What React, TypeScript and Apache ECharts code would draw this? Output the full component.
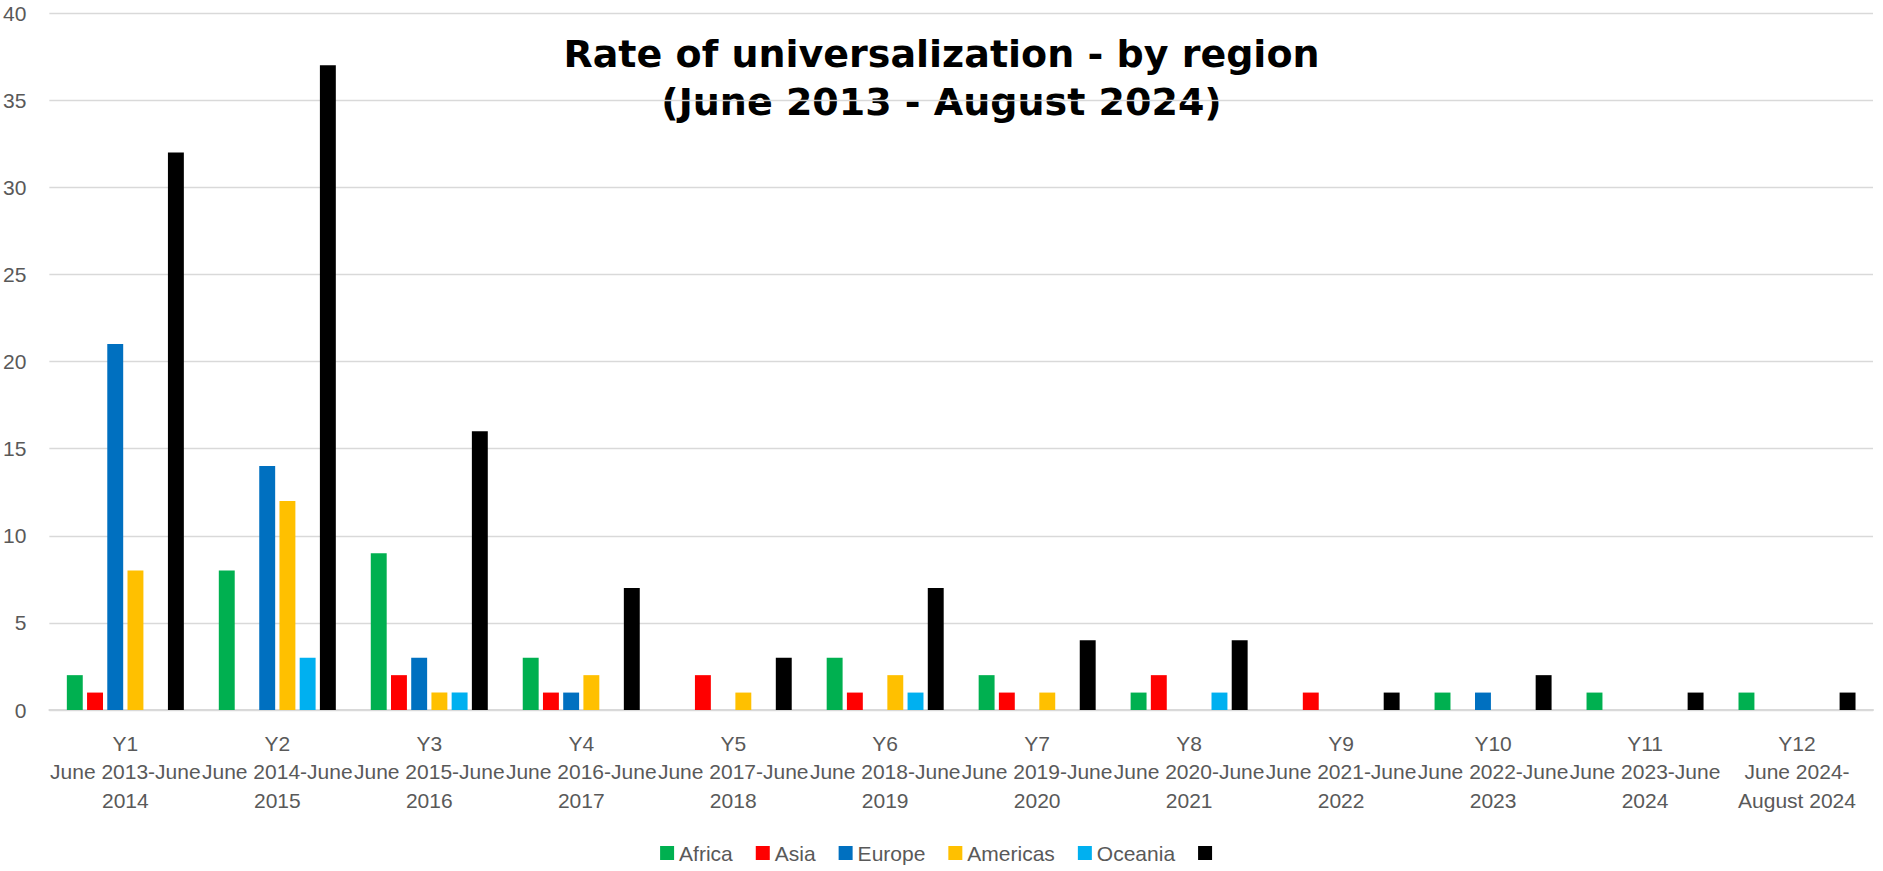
import React, { useEffect, useRef } from "react";
import * as echarts from "echarts";

const categories = [
  "Y1\nJune 2013-June\n2014",
  "Y2\nJune 2014-June\n2015",
  "Y3\nJune 2015-June\n2016",
  "Y4\nJune 2016-June\n2017",
  "Y5\nJune 2017-June\n2018",
  "Y6\nJune 2018-June\n2019",
  "Y7\nJune 2019-June\n2020",
  "Y8\nJune 2020-June\n2021",
  "Y9\nJune 2021-June\n2022",
  "Y10\nJune 2022-June\n2023",
  "Y11\nJune 2023-June\n2024",
  "Y12\nJune 2024-\nAugust 2024",
];

const africa = [2, 8, 9, 3, 0, 3, 2, 1, 0, 1, 1, 1];
const asia = [1, 0, 2, 1, 2, 1, 1, 2, 1, 0, 0, 0];
const europe = [21, 14, 3, 1, 0, 0, 0, 0, 0, 1, 0, 0];
const americas = [8, 12, 1, 2, 1, 2, 1, 0, 0, 0, 0, 0];
const oceania = [0, 3, 1, 0, 0, 1, 0, 1, 0, 0, 0, 0];
const total = [32, 37, 16, 7, 3, 7, 4, 4, 1, 2, 1, 1];

const seriesNames = ["Africa", "Asia", "Europe", "Americas", "Oceania", " "];
const seriesColors = ["#00B050", "#FF0000", "#0070C0", "#FFC000", "#00B0F0", "#000000"];
const seriesData = [africa, asia, europe, americas, oceania, total];

const titleText = "Rate of universalization - by region\n(June 2013 - August 2024)";

export default function App() {
  const ref = useRef<HTMLDivElement>(null);

  useEffect(() => {
    if (!ref.current) return;
    const chart = echarts.init(ref.current, undefined, { renderer: "svg" });
    const labelFont = "'Liberation Sans', Arial, sans-serif";
    chart.setOption({
      animation: false,
      backgroundColor: "#ffffff",
      title: {
        text: titleText,
        left: "center",
        top: 25,
        z: 0,
        textStyle: {
          fontFamily: "'DejaVu Sans', sans-serif",
          fontWeight: "bold",
          fontSize: 38,
          lineHeight: 48,
          color: "#000000",
        },
      },
      legend: {
        data: seriesNames,
        left: "center",
        top: 837,
        icon: "rect",
        itemWidth: 14,
        itemHeight: 14,
        itemGap: 23,
        textStyle: {
          fontFamily: labelFont,
          fontSize: 21,
          color: "#595959",
          lineHeight: 22,
        },
      },
      grid: {
        left: 46,
        right: 10,
        top: 13,
        bottom: 161,
        containLabel: false,
      },
      xAxis: {
        type: "category",
        data: categories,
        axisTick: { show: false },
        axisLine: { lineStyle: { color: "#D9D9D9", width: 2 } },
        axisLabel: {
          interval: 0,
          fontFamily: labelFont,
          fontSize: 21,
          color: "#595959",
          lineHeight: 28.5,
          margin: 19,
        },
      },
      yAxis: {
        type: "value",
        min: 0,
        max: 40,
        interval: 5,
        z: 1,
        axisLine: { show: false },
        axisTick: { show: false },
        splitLine: { lineStyle: { color: "#D9D9D9", width: 1.3 } },
        axisLabel: {
          fontFamily: labelFont,
          fontSize: 21,
          color: "#595959",
          margin: 23,
        },
      },
      series: seriesNames.map((name, i) => ({
        name,
        type: "bar",
        data: seriesData[i],
        barGap: "27%",
        barCategoryGap: "23%",
        z: 2,
        itemStyle: { color: seriesColors[i] },
      })),
    });
    return () => {
      chart.dispose();
    };
  }, []);

  return (
    <div
      ref={ref}
      style={{ position: "fixed", left: 0, top: 0, width: 1883, height: 871 }}
    />
  );
}
